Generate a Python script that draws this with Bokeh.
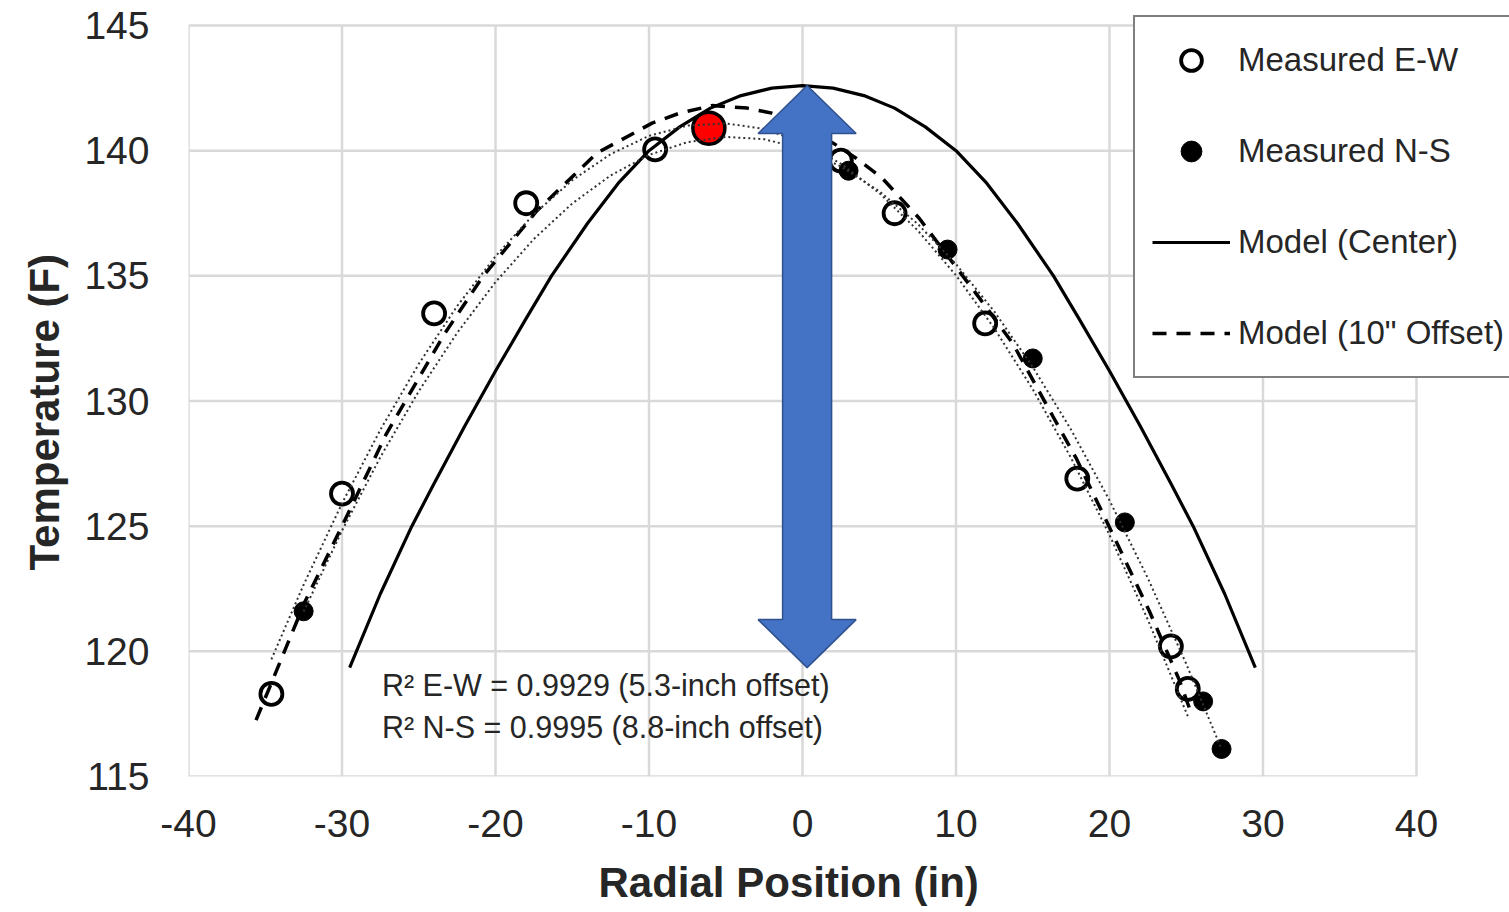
from bokeh.plotting import figure
from bokeh.models import Range1d, FixedTicker, Legend, LegendItem, Label, Title
from bokeh.embed import file_html
from bokeh.resources import INLINE

# ---- data ----
ew_x = [-34.6, -30.0, -24.0, -18.0, -9.6, 2.5, 6.0, 11.9, 17.9, 24.0, 25.1]
ew_t = [118.3, 126.3, 133.5, 137.9, 140.05, 139.6, 137.5, 133.1, 126.9, 120.2, 118.5]

ns_x = [-32.5, 3.0, 9.45, 15.0, 21.0, 26.1, 27.3]
ns_t = [121.6, 139.2, 136.05, 131.7, 125.15, 118.0, 116.1]

peak_x = [-6.1]
peak_t = [140.9]

center_x = [-29.5, -27.5, -25.45, -24.0, -22.0, -20.0, -18.0, -16.35, -14.0, -12.0, -10.0,
            -8.0, -6.0, -4.0, -2.0, 0.0, 2.0, 4.0, 6.0, 8.0, 10.0, 12.0, 14.0, 16.35,
            18.0, 20.0, 22.0, 24.0, 25.45, 27.5, 29.5]
center_t = [119.35, 122.3, 125.0, 126.7, 129.0, 131.2, 133.3, 135.0, 137.1, 138.7, 140.0,
            140.95, 141.7, 142.2, 142.5, 142.6, 142.5, 142.2, 141.7, 140.95, 140.0, 138.7,
            137.1, 135.0, 133.3, 131.2, 129.0, 126.7, 125.0, 122.3, 119.35]

offset_x = [-35.6, -32.4, -30.0, -27.1, -23.3, -20.85, -17.3, -13.4, -9.8, -8.0, -5.9, -3.6,
            -2.0, 0.0, 2.0, 3.5, 5.2, 7.6, 11.3, 13.7, 16.3, 17.8, 20.0, 22.6, 24.55, 25.4]
offset_t = [117.25, 122.0, 125.0, 128.7, 132.7, 134.95, 137.6, 139.9, 141.1, 141.5, 141.8, 141.7,
            141.5, 141.0, 140.3, 139.7, 138.9, 137.3, 134.3, 132.3, 129.4, 127.75, 124.95, 121.6,
            118.85, 117.4]

trend_ew_x = [-34.6, -32.5, -30.0, -27.5, -25.0, -22.5, -20.0, -17.5, -15.0, -12.5, -10.0, -7.5,
              -5.0, -2.5, 0.0, 2.5, 5.0, 7.5, 10.0, 12.5, 15.0, 17.5, 20.0, 22.5, 25.1]
trend_ew_t = [119.68, 122.66, 125.91, 128.85, 131.48, 133.79, 135.78, 137.46, 138.82, 139.86,
              140.59, 141.0, 141.09, 140.87, 140.33, 139.48, 138.31, 136.82, 135.02, 132.9,
              130.47, 127.72, 124.65, 121.26, 117.41]

trend_ns_x = [-32.5, -30.0, -27.5, -25.0, -22.5, -20.0, -17.5, -15.0, -12.5, -10.0, -7.5, -5.0,
              -2.5, 0.0, 2.5, 5.0, 7.5, 10.0, 12.5, 15.0, 17.5, 20.0, 22.5, 25.0, 27.3]
trend_ns_t = [121.59, 124.82, 127.76, 130.39, 132.72, 134.75, 136.47, 137.89, 139.01, 139.83,
              140.34, 140.55, 140.46, 140.07, 139.37, 138.38, 137.08, 135.47, 133.57, 131.36,
              128.85, 126.03, 122.92, 119.5, 116.09]

x_ticks = [-40, -30, -20, -10, 0, 10, 20, 30, 40]
y_ticks = [115, 120, 125, 130, 135, 140, 145]

r2_lines = ["R\u00b2 E-W = 0.9929 (5.3-inch offset)", "R\u00b2 N-S = 0.9995 (8.8-inch offset)"]
legend_labels = ["Measured E-W", "Measured N-S", "Model (Center)", "Model (10\" Offset)"]
x_title = "Radial Position (in)"
y_title = "Temperature (F)"

FONT = "Liberation Sans"
TXT = "#262626"
GRID = "#d9d9d9"

# scale: 1228 px for 80 in, 751 px for 30 F; the frame is extended to the right and top
# so the legend (which overlaps the plot area and runs past it) is not clipped
PX_X = 1228 / 80.0
PX_Y = 751 / 30.0
FW, FH = 1321, 776
p = figure(frame_width=FW, frame_height=FH,
           x_range=Range1d(x_ticks[0], x_ticks[0] + FW / PX_X),
           y_range=Range1d(y_ticks[0], y_ticks[0] + FH / PX_Y),
           output_backend="svg", toolbar_location=None,
           min_border_left=188, min_border_right=0, min_border_top=0, min_border_bottom=136)
p.background_fill_color = "white"
p.border_fill_color = "white"
p.outline_line_color = None
p.xgrid.grid_line_color = None
p.ygrid.grid_line_color = None

for ax, ticks in ((p.xaxis, x_ticks), (p.yaxis, y_ticks)):
    ax.ticker = FixedTicker(ticks=ticks)
    ax.major_label_overrides = {t: str(t) for t in ticks}
    ax.axis_line_color = None
    ax.major_tick_line_color = None
    ax.minor_tick_line_color = None
    ax.major_label_text_font = FONT
    ax.major_label_text_font_size = "39px"
    ax.major_label_text_color = TXT

p.xaxis.major_label_standoff = 27
p.yaxis.major_label_standoff = 33

p.add_layout(Title(text=x_title, align="left", offset=410, standoff=34, text_font=FONT,
                   text_font_size="42px", text_font_style="bold", text_color=TXT), "below")
p.add_layout(Title(text=y_title, align="left", offset=206, standoff=28, text_font=FONT,
                   text_font_size="42px", text_font_style="bold", text_color=TXT), "left")

# grid (only over the -40..40 / 115..145 area)
p.segment(x0=x_ticks, y0=[y_ticks[0]] * len(x_ticks), x1=x_ticks, y1=[y_ticks[-1]] * len(x_ticks),
          line_color=GRID, line_width=2.5)
p.segment(x0=[x_ticks[0]] * len(y_ticks), y0=y_ticks, x1=[x_ticks[-1]] * len(y_ticks), y1=y_ticks,
          line_color=GRID, line_width=2.5)

# markers
r_ew = p.scatter(ew_x, ew_t, marker="circle", size=22, fill_color="white", line_color="black", line_width=3.8)
r_ns = p.scatter(ns_x, ns_t, marker="circle", size=19, fill_color="black", line_color="black", line_width=1)
p.scatter(peak_x, peak_t, marker="circle", size=32, fill_color="#ff0000", line_color="black", line_width=3.5)

# model lines
r_c = p.line(center_x, center_t, line_color="black", line_width=3.2)
r_o = p.line(offset_x, offset_t, line_color="black", line_width=3.5, line_dash="14 10")

# trendlines
p.line(trend_ew_x, trend_ew_t, line_color="#333333", line_width=2, line_dash="2 3")
p.line(trend_ns_x, trend_ns_t, line_color="#333333", line_width=2, line_dash="2 3")

# blue double arrow from model peak down to model end
ax_c = 0.3
top = max(center_t)
bot = min(center_t)
head_half = 49 / PX_X
shaft_half = 24.5 / PX_X
head_len = 48 / PX_Y
ax_x = [ax_c, ax_c + head_half, ax_c + shaft_half, ax_c + shaft_half, ax_c + head_half, ax_c,
        ax_c - head_half, ax_c - shaft_half, ax_c - shaft_half, ax_c - head_half]
ax_y = [top, top - head_len, top - head_len, bot + head_len, bot + head_len, bot,
        bot + head_len, bot + head_len, top - head_len, top - head_len]
p.patch(ax_x, ax_y, fill_color="#4472c4", line_color="#2f528f", line_width=1.5)

# R^2 annotations
for txt, yv in zip(r2_lines, [118.64, 116.97]):
    p.add_layout(Label(x=-27.4, y=yv, text=txt, text_font=FONT, text_font_size="30.5px",
                       text_color=TXT, text_baseline="middle", text_align="left"))

legend = Legend(items=[LegendItem(label=legend_labels[0], renderers=[r_ew]),
                       LegendItem(label=legend_labels[1], renderers=[r_ns]),
                       LegendItem(label=legend_labels[2], renderers=[r_c]),
                       LegendItem(label=legend_labels[3], renderers=[r_o])],
                location=(945, 398), orientation="vertical",
                label_text_font=FONT, label_text_font_size="33px", label_text_color=TXT,
                label_standoff=8, glyph_width=78, glyph_height=52, label_height=52,
                spacing=39, padding=17, margin=0,
                border_line_color="black", border_line_width=2.5,
                background_fill_color="white", background_fill_alpha=1.0)
p.add_layout(legend, "center")

open("out.html", "w").write(file_html(p, INLINE))
